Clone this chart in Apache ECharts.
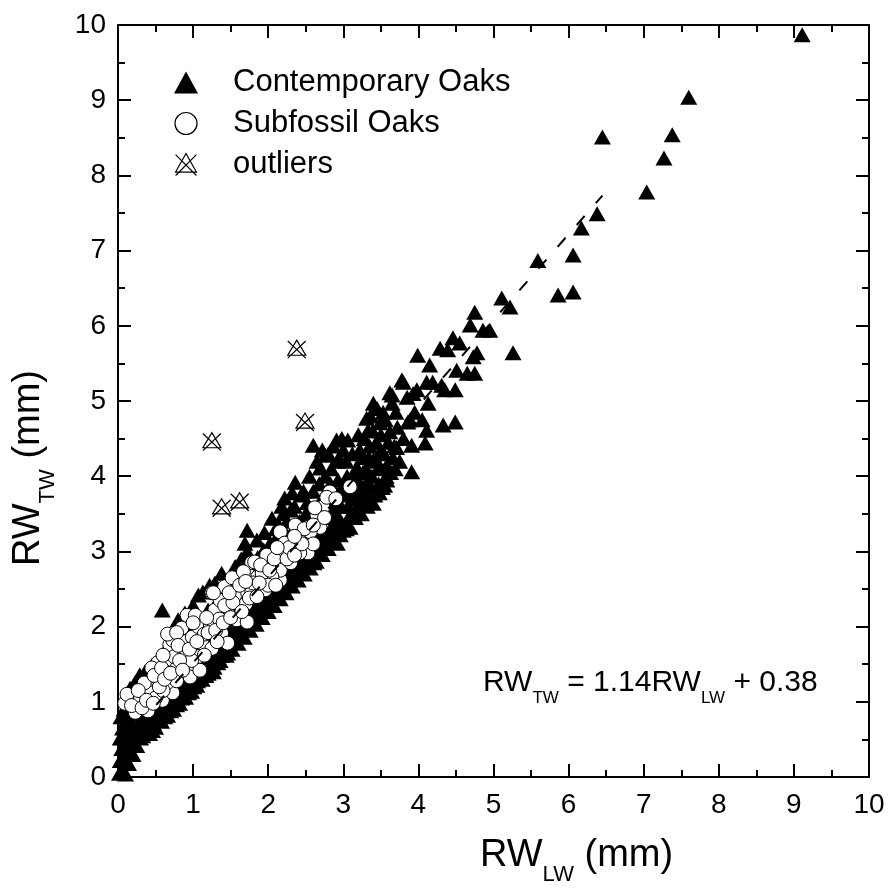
<!DOCTYPE html>
<html>
<head>
<meta charset="utf-8">
<script src="https://cdn.jsdelivr.net/npm/echarts@6/dist/echarts.min.js"></script>
<style>
  html, body { margin: 0; padding: 0; background: #fff; }
  #chart { width: 891px; height: 889px; }
</style>
</head>
<body>
<div id="chart"></div>
<script>
// RW_LW (mm), RW_TW (mm) pairs
const contemporaryOaks = [
  [0.02,0.05],[0.06,0.1],[0.1,0.04],[0.03,0.22],[0.08,0.25],[0.14,0.18],[0.05,0.38],[0.12,0.35],[0.2,0.3],
  [0.03,0.52],[0.1,0.5],[0.18,0.45],[0.25,0.42],[0.06,0.65],[0.14,0.62],[0.22,0.58],[0.3,0.52],[0.04,0.8],
  [0.11,0.76],[0.19,0.72],[0.27,0.68],[0.34,0.62],[0.08,0.9],[0.16,0.88],[0.24,0.84],[0.32,0.78],[0.12,1.02],
  [0.2,0.98],[0.28,0.95],[0.16,1.18],[0.23,1.26],[0.29,1.36],[0.26,1.1],[0.34,1.05],[0.38,0.9],[0.4,0.75],
  [0.42,0.58],[0.5,0.66],[0.58,0.74],[0.66,0.82],[0.74,0.9],[0.82,0.98],[0.9,1.06],[0.98,1.14],
  [0.45,0.85],[0.52,0.95],[0.6,0.92],[0.68,1.0],[0.76,1.08],[0.84,1.18],[0.92,1.26],[0.48,1.1],[0.56,1.18],
  [0.64,1.28],[0.72,1.22],[0.8,1.35],[0.88,1.45],[0.96,1.38],[0.42,1.25],[0.36,1.4],[0.45,1.48],[0.55,1.42],
  [0.62,1.55],[0.7,1.6],[0.63,1.69],[0.78,1.72],[0.86,1.62],[0.94,1.56],[0.59,2.22],[0.8,2.09],[0.89,2.18],
  [0.84,1.86],[0.95,1.95],
  [0.33,0.55],[0.37,0.7],[0.41,0.95],[0.44,1.08],[0.47,0.72],[0.51,0.82],[0.54,1.02],[0.57,0.88],[0.61,1.1],
  [0.64,0.95],[0.67,1.15],[0.7,0.88],[0.73,1.02],[0.76,1.3],[0.79,1.1],[0.82,1.25],[0.85,1.05],[0.88,1.3],
  [0.91,1.15],[0.94,1.4],[0.97,1.25],[0.99,1.5],[0.46,0.62],[0.62,0.8],[0.78,0.96],[0.94,1.12],
  [1.05,1.22],[1.12,1.3],[1.2,1.38],[1.28,1.46],[1.36,1.55],[1.44,1.62],
  [1.02,1.45],[1.1,1.55],[1.18,1.62],[1.26,1.7],[1.34,1.8],[1.42,1.88],[1.48,1.78],[1.08,1.72],[1.16,1.85],
  [1.24,1.95],[1.32,2.05],[1.4,2.15],[1.46,2.0],[1.04,2.0],[1.12,2.1],[1.2,2.22],[1.3,2.3],[1.38,2.4],
  [1.07,2.42],[1.13,2.46],[1.22,2.55],[1.29,2.58],[1.38,2.71],[1.0,2.28],[1.15,1.4],[1.3,1.58],
  [1.01,1.2],[1.03,1.35],[1.06,1.28],[1.09,1.42],[1.11,1.65],[1.14,1.5],[1.17,1.35],[1.19,1.75],[1.22,1.48],
  [1.25,1.62],[1.27,1.4],[1.3,1.85],[1.33,1.52],[1.35,1.7],[1.38,1.62],[1.41,1.98],[1.43,1.75],[1.46,1.65],
  [1.49,1.9],[1.12,1.92],[1.27,2.12],[1.35,2.25],[1.23,1.82],[1.17,2.02],
  [1.52,1.7],[1.6,1.78],[1.68,1.86],[1.76,1.95],[1.84,2.03],[1.92,2.12],[2.0,2.2],
  [1.55,1.95],[1.63,2.05],[1.71,2.14],[1.79,2.22],[1.87,2.3],[1.95,2.4],[1.5,2.25],[1.58,2.35],[1.66,2.44],
  [1.74,2.52],[1.82,2.6],[1.9,2.68],[1.98,2.78],[1.53,2.55],[1.6,2.62],[1.7,2.73],[1.78,2.84],[1.86,2.92],
  [1.94,3.02],[1.56,2.8],[1.64,2.9],[1.72,3.0],[1.69,3.11],[1.72,3.28],[1.85,3.15],[1.95,3.25],[1.45,2.6],
  [1.51,1.85],[1.54,2.1],[1.57,1.8],[1.59,2.2],[1.62,1.95],[1.65,2.3],[1.67,1.98],[1.7,2.4],[1.73,2.05],
  [1.75,2.3],[1.78,2.12],[1.81,2.45],[1.83,2.15],[1.86,2.5],[1.89,2.25],[1.91,2.55],[1.94,2.3],[1.97,2.62],
  [1.99,2.35],[1.6,2.5],[1.75,2.65],[1.88,2.8],[1.68,2.62],[1.82,2.75],
  [2.08,2.28],[2.16,2.37],[2.24,2.45],[2.32,2.54],[2.4,2.62],[2.48,2.7],
  [2.05,2.5],[2.13,2.6],[2.21,2.7],[2.29,2.8],[2.37,2.9],[2.45,3.0],[2.02,2.9],[2.1,3.0],[2.18,3.1],
  [2.26,3.2],[2.34,3.3],[2.42,3.4],[2.5,3.5],[2.05,3.44],[2.14,3.35],[2.22,3.71],[2.3,3.55],[2.36,3.92],
  [2.44,3.75],[2.2,3.5],[2.12,3.2],[2.4,3.15],[2.48,3.25],[2.28,3.0],
  [2.02,2.3],[2.04,2.65],[2.07,2.4],[2.09,2.78],[2.12,2.45],[2.15,2.88],[2.17,2.52],[2.2,2.95],[2.23,2.58],
  [2.25,3.05],[2.28,2.62],[2.31,3.12],[2.33,2.7],[2.36,3.2],[2.39,2.78],[2.41,3.28],[2.44,2.85],[2.47,3.35],
  [2.5,2.9],[2.53,3.45],[2.56,2.95],[2.59,3.55],[2.1,3.3],[2.25,3.4],[2.35,3.6],[2.47,3.8],[2.32,3.78],
  [2.18,3.6],[2.02,3.1],
  [2.56,2.78],[2.64,2.87],[2.72,2.96],[2.8,3.04],[2.88,3.13],[2.92,3.11],[2.96,3.22],
  [2.55,3.0],[2.63,3.1],[2.71,3.2],[2.78,3.19],[2.86,3.35],[2.94,3.45],[2.58,3.35],[2.66,3.45],[2.74,3.55],
  [2.82,3.65],[2.9,3.75],[2.98,3.85],[2.52,3.65],[2.6,3.8],[2.68,3.9],[2.76,4.0],[2.84,4.1],[2.92,4.2],
  [2.6,4.41],[2.76,4.28],[2.69,4.11],[2.91,4.48],[2.96,4.22],[2.55,4.0],[3.0,4.35],[2.85,3.5],[2.7,3.65],
  [2.61,2.85],[2.63,3.25],[2.66,3.0],[2.69,3.35],[2.71,3.08],[2.74,3.75],[2.77,3.15],[2.79,3.45],[2.81,3.25],
  [2.83,3.9],[2.86,3.25],[2.88,3.6],[2.9,3.35],[2.93,3.95],[2.95,3.3],[2.97,3.6],[3.0,3.28],[3.02,3.75],
  [3.04,4.2],[3.07,3.45],[3.1,3.8],[3.13,3.5],[3.15,4.0],[3.18,3.6],[3.2,3.95],[3.23,3.65],[3.25,4.25],
  [3.28,3.75],[3.3,4.1],[2.65,4.2],[2.8,4.3],[2.87,4.4],[2.98,4.5],[2.72,4.35],
  [3.04,3.3],[3.09,3.32],[3.16,3.45],[3.24,3.5],[3.32,3.6],[3.4,3.64],[3.48,3.78],
  [3.06,3.6],[3.14,3.7],[3.22,3.8],[3.3,3.9],[3.38,4.0],[3.46,4.1],[3.06,4.48],[3.1,3.95],[3.18,4.12],
  [3.22,4.35],[3.26,4.05],[3.34,4.25],[3.4,4.22],[3.31,4.77],[3.33,4.61],[3.4,4.97],[3.44,4.45],[3.49,4.71],
  [3.5,4.35],[3.12,4.3],[3.2,4.55],[3.28,4.5],[3.05,4.0],
  [3.33,3.7],[3.35,4.4],[3.37,3.85],[3.39,4.6],[3.42,3.75],[3.45,4.2],[3.47,3.9],[3.5,4.55],[3.52,3.85],
  [3.54,4.3],[3.57,4.0],[3.6,4.45],[3.63,4.05],[3.66,4.25],[3.69,4.1],[3.36,4.8],[3.45,4.9],[3.53,4.85],
  [3.7,4.85],
  [3.55,3.88],[3.58,3.95],[3.62,4.59],[3.56,4.75],[3.58,4.15],[3.65,5.08],[3.65,4.97],[3.62,5.11],[3.71,4.38],
  [3.75,4.2],[3.78,5.28],[3.8,5.25],[3.85,5.05],[3.86,4.72],[3.89,4.75],[3.91,4.41],[3.91,4.06],[3.93,5.1],
  [3.68,4.4],[3.72,4.65],[3.8,4.5],[3.98,5.15],[3.99,5.61],[4.09,4.44],[4.11,4.61],[4.13,4.97],[4.11,5.25],
  [4.15,5.48],[3.95,4.85],[4.05,4.75],
  [4.19,5.25],[4.29,5.7],[4.31,5.21],[4.33,4.68],[4.35,5.15],[4.39,5.68],[4.46,5.84],[4.49,4.72],[4.49,5.15],
  [4.51,5.41],[4.55,5.77],[4.65,5.37],[4.69,6.01],[4.73,5.59],[4.75,5.37],[4.75,6.18],[4.78,5.64],[4.86,5.94],
  [4.95,5.94],[5.11,6.37],[5.22,6.25],[5.26,5.64],
  [5.59,6.87],[5.86,6.41],[6.06,6.45],[6.06,6.94],[6.17,7.3],[6.38,7.49],[6.45,8.51],[7.04,7.78],[7.27,8.23],
  [7.38,8.54],[7.6,9.04],[9.11,9.87]
];

const subfossilOaks = [
  [0.09,0.98],[0.23,0.86],[0.4,0.88],[0.59,1.02],[0.43,1.22],[0.53,1.32],[0.4,1.13],[0.73,1.12],[0.65,1.25],
  [0.53,1.52],[0.69,1.53],[0.79,1.46],[0.92,1.42],[0.96,1.33],[0.63,1.4],[0.69,1.76],[0.85,1.66],[0.73,1.82],
  [0.89,1.8],[1.07,1.6],[1.12,1.78],[1.25,1.71],[0.99,1.86],[0.85,1.98],[0.92,2.15],[1.03,2.15],[1.07,2.0],
  [1.23,2.02],[1.38,1.91],[1.46,1.78],[1.29,2.22],[1.46,2.25],[1.58,2.09],[1.72,2.06],[1.36,2.35],[1.6,2.35],
  [1.66,2.46],[1.42,2.53],[1.25,2.45],[1.52,2.65],[1.72,2.71],[1.86,2.66],[1.93,2.51],[1.78,2.45],[2.16,2.62],
  [1.78,2.85],[1.96,2.85],[1.09,1.42],[2.82,3.79],[3.09,3.86],[2.73,3.59],[2.65,3.48],[2.53,3.32],[2.69,3.32],
  [2.36,3.35],[2.16,3.26],[2.4,3.19],[2.56,3.26],[2.22,3.11],[2.18,2.98],[2.53,2.98],[2.42,2.98],[1.98,2.95],
  [1.82,2.86],[1.67,2.73],[2.16,2.75],[2.05,2.66],[1.92,2.71],[1.8,2.58],[1.27,2.45],[1.96,2.49],
  [0.3,1.05],[0.5,1.05],[0.78,1.28],[0.98,1.55],[1.15,1.9],[1.35,2.1],[1.55,2.4],[1.7,2.3],[2.0,2.55],
  [2.3,2.85],[2.6,3.1],[0.6,1.15],[0.35,1.25],[0.45,1.45],
  [0.12,1.1],[0.18,0.95],[0.27,1.15],[0.32,0.92],[0.38,1.02],[0.47,0.98],[0.55,1.2],[0.48,1.35],[0.58,1.45],
  [0.62,1.3],[0.7,1.38],[0.75,1.6],[0.82,1.55],[0.86,1.42],[0.6,1.62],[0.66,1.9],[0.78,1.92],[0.8,1.75],
  [0.95,1.7],[1.0,2.05],[1.05,1.8],[1.15,1.62],[1.18,2.12],[1.2,1.92],[1.3,1.95],[1.32,1.8],[1.4,2.05],
  [1.42,2.28],[1.5,2.12],[1.53,2.32],[1.48,2.45],[1.62,2.55],[1.65,2.2],[1.75,2.38],[1.7,2.6],[1.85,2.4],
  [1.88,2.58],[1.9,2.82],[2.02,2.75],[2.08,2.9],[2.1,2.55],[2.25,2.9],[2.28,3.05],[2.35,2.95],[2.45,3.1],
  [2.48,3.3],[2.6,3.35],[2.62,3.58],[2.75,3.45],[2.78,3.72],[2.9,3.7],[2.35,3.2],[2.12,3.05]
];

const outliers = [[1.25,4.46],[1.38,3.58],[1.62,3.66],[2.38,5.69],[2.49,4.72]];

// fit RW_TW = 1.14 RW_LW + 0.38, drawn over the measured range
const fitLine = [[0, 0.38], [6.45, 7.73]];

const seriesNames = ['Contemporary Oaks', 'Subfossil Oaks', 'outliers'];
const axisTicks = [0, 10, 1];

const FONT = '"Liberation Sans", Arial, Helvetica, sans-serif';
const outlierSymbol = 'path://M10,1L19,17L1,17Z M1,2L19,20 M19,2L1,20';

const chart = echarts.init(document.getElementById('chart'), null, { renderer: 'canvas' });

const axisCommon = {
  type: 'value',
  min: axisTicks[0],
  max: axisTicks[1],
  interval: axisTicks[2],
  splitLine: { show: false },
  axisLine: { show: true, onZero: false, lineStyle: { color: '#000', width: 2 } },
  axisTick: { show: true, inside: true, length: 13, lineStyle: { color: '#000', width: 2 } },
  minorTick: { show: true, splitNumber: 2, length: 7, lineStyle: { color: '#000', width: 2 } },
  minorSplitLine: { show: false },
};

// rich text: parts alternate between normal ('a') and lowered subscript ('s')
function subText(parts, size, subSize, drop) {
  return {
    text: parts.map(([k, t]) => `{${k}|${t}}`).join(''),
    fill: '#000',
    align: 'left',
    verticalAlign: 'middle',
    rich: {
      a: { fontSize: size, fontFamily: FONT, fill: '#000' },
      s: { fontSize: subSize, fontFamily: FONT, fill: '#000', padding: [drop, 0, 0, 0] },
    },
  };
}

chart.setOption({
  animation: false,
  backgroundColor: '#fff',
  grid: { left: 118, right: 22, top: 25, bottom: 112, containLabel: false, outerBoundsMode: 'none' },
  xAxis: [
    {
      ...axisCommon,
      position: 'bottom',
      axisLabel: { color: '#000', fontSize: 28, fontFamily: FONT, margin: 14 },
    },
    {
      ...axisCommon,
      position: 'top',
      axisLabel: { show: false },
    },
  ],
  yAxis: [
    {
      ...axisCommon,
      position: 'left',
      axisLabel: { color: '#000', fontSize: 28, fontFamily: FONT, margin: 12 },
    },
    {
      ...axisCommon,
      position: 'right',
      axisLabel: { show: false },
    },
  ],
  legend: {
    data: [
      { name: seriesNames[0] },
      { name: seriesNames[1], itemStyle: { borderWidth: 1.2 } },
      { name: seriesNames[2], itemStyle: { borderWidth: 1.2 } },
    ],
    orient: 'vertical',
    left: 169,
    top: 62,
    itemWidth: 24,
    itemHeight: 22,
    itemGap: 10,
    selectedMode: false,
    textStyle: { color: '#000', fontSize: 31, fontFamily: FONT, padding: [0, 0, 0, 30] },
  },
  graphic: [
    {
      type: 'text',
      x: 483,
      y: 683,
      silent: true,
      style: subText([['a', 'RW'], ['s', 'TW'], ['a', ' = 1.14RW'], ['s', 'LW'], ['a', ' + 0.38']], 30, 17, 30),
    },
    {
      type: 'text',
      x: 480,
      y: 856,
      silent: true,
      style: subText([['a', 'RW'], ['s', 'LW'], ['a', ' (mm)']], 38, 22, 38),
    },
    {
      type: 'text',
      x: 29,
      y: 566,
      rotation: Math.PI / 2,
      silent: true,
      style: subText([['a', 'RW'], ['s', 'TW'], ['a', ' (mm)']], 38, 22, 38),
    },
  ],
  series: [
    {
      name: seriesNames[0],
      type: 'scatter',
      data: contemporaryOaks,
      symbol: 'triangle',
      symbolSize: [17, 15],
      itemStyle: { color: '#000', opacity: 1 },
      silent: true,
      z: 2,
    },
    {
      name: seriesNames[1],
      type: 'scatter',
      data: subfossilOaks,
      symbol: 'circle',
      symbolSize: 14,
      itemStyle: { color: '#fff', borderColor: '#000', borderWidth: 1, opacity: 1 },
      silent: true,
      z: 3,
    },
    {
      name: seriesNames[2],
      type: 'scatter',
      data: outliers,
      symbol: outlierSymbol,
      symbolSize: 18,
      itemStyle: { color: 'rgba(0,0,0,0)', borderColor: '#000', borderWidth: 1.2, opacity: 1 },
      silent: true,
      z: 3,
    },
    {
      name: 'fit',
      type: 'line',
      data: fitLine,
      symbol: 'none',
      lineStyle: { color: '#000', width: 2, type: [12, 17] },
      silent: true,
      z: 4,
    },
  ],
});
</script>
</body>
</html>
